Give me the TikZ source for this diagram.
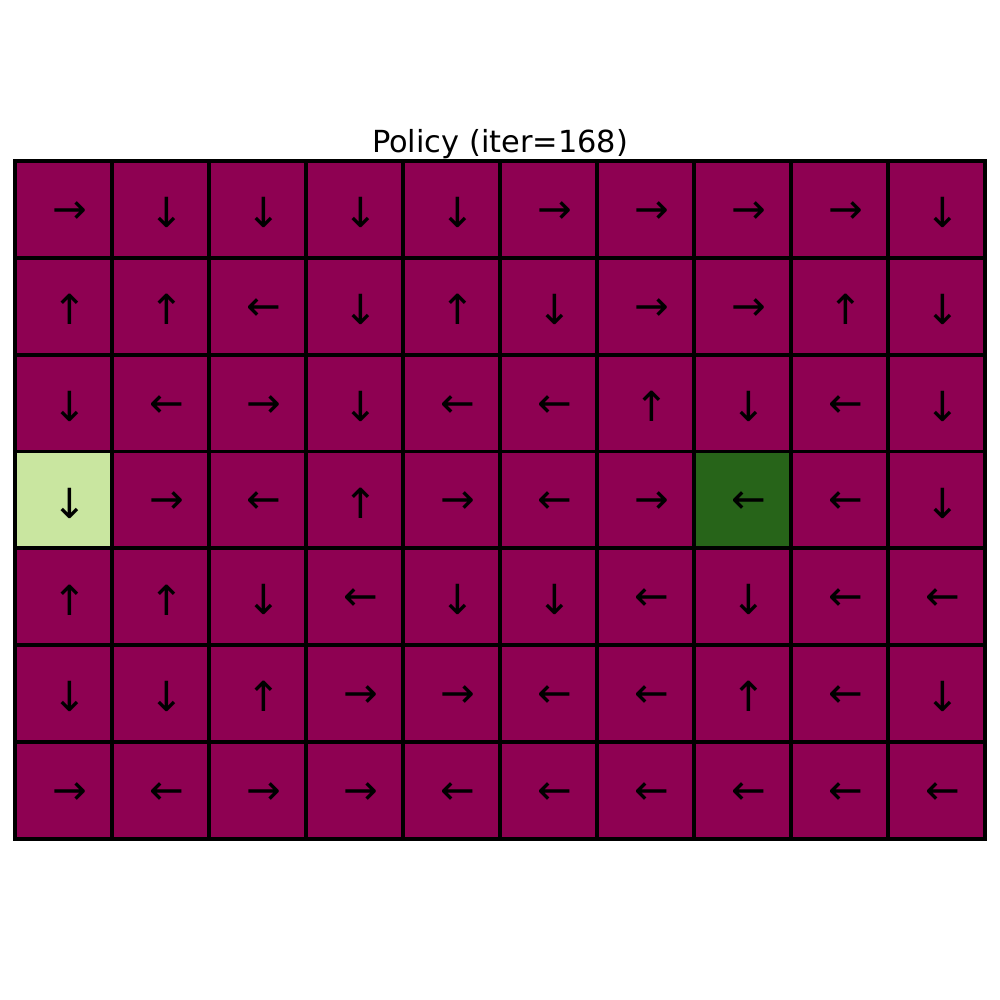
\documentclass[tikz,border=0pt]{standalone}
\usepackage{fontspec}
\setmainfont{DejaVu Sans}
\usepackage{xcolor}
\definecolor{pypurple}{HTML}{8E0152}
\definecolor{pylight}{HTML}{C9E6A0}
\definecolor{pydark}{HTML}{276419}
\tikzset{
  cell/.style={draw=black, line width=1.1pt, fill=pypurple, minimum width=0.97cm, minimum height=0.9686cm, inner sep=0pt},
  arrowtext/.style={font=\fontsize{11.8}{12}\selectfont, xshift=0.065cm, yshift=-0.03cm},
  title/.style={anchor=base, font=\fontsize{8.65}{9}\selectfont}
}
\begin{document}
\begin{tikzpicture}
  \useasboundingbox (0,0) rectangle (10,10);
  \node[title] (title) at (5,8.47) {Policy (iter=168)};
  % policy grid, one row per entry
  \foreach \row [count=\r] in {{→,↓,↓,↓,↓,→,→,→,→,↓},{↑,↑,←,↓,↑,↓,→,→,↑,↓},{↓,←,→,↓,←,←,↑,↓,←,↓},{↓,→,←,↑,→,←,→,←,←,↓},{↑,↑,↓,←,↓,↓,←,↓,←,←},{↓,↓,↑,→,→,←,←,↑,←,↓},{→,←,→,→,←,←,←,←,←,←}} {
    \foreach \a [count=\c] in \row {
      \def\cellcol{pypurple}
      \ifnum\r=4 \ifnum\c=1 \def\cellcol{pylight}\fi \ifnum\c=8 \def\cellcol{pydark}\fi\fi
      \node[cell, fill=\cellcol] (cell-\r-\c) at ({0.15+0.97*(\c-0.5)},{8.39-0.9686*(\r-0.5)}) {};
      \node[arrowtext] (dir-\r-\c) at (cell-\r-\c) {\a};
    }
  }
\end{tikzpicture}
\end{document}
